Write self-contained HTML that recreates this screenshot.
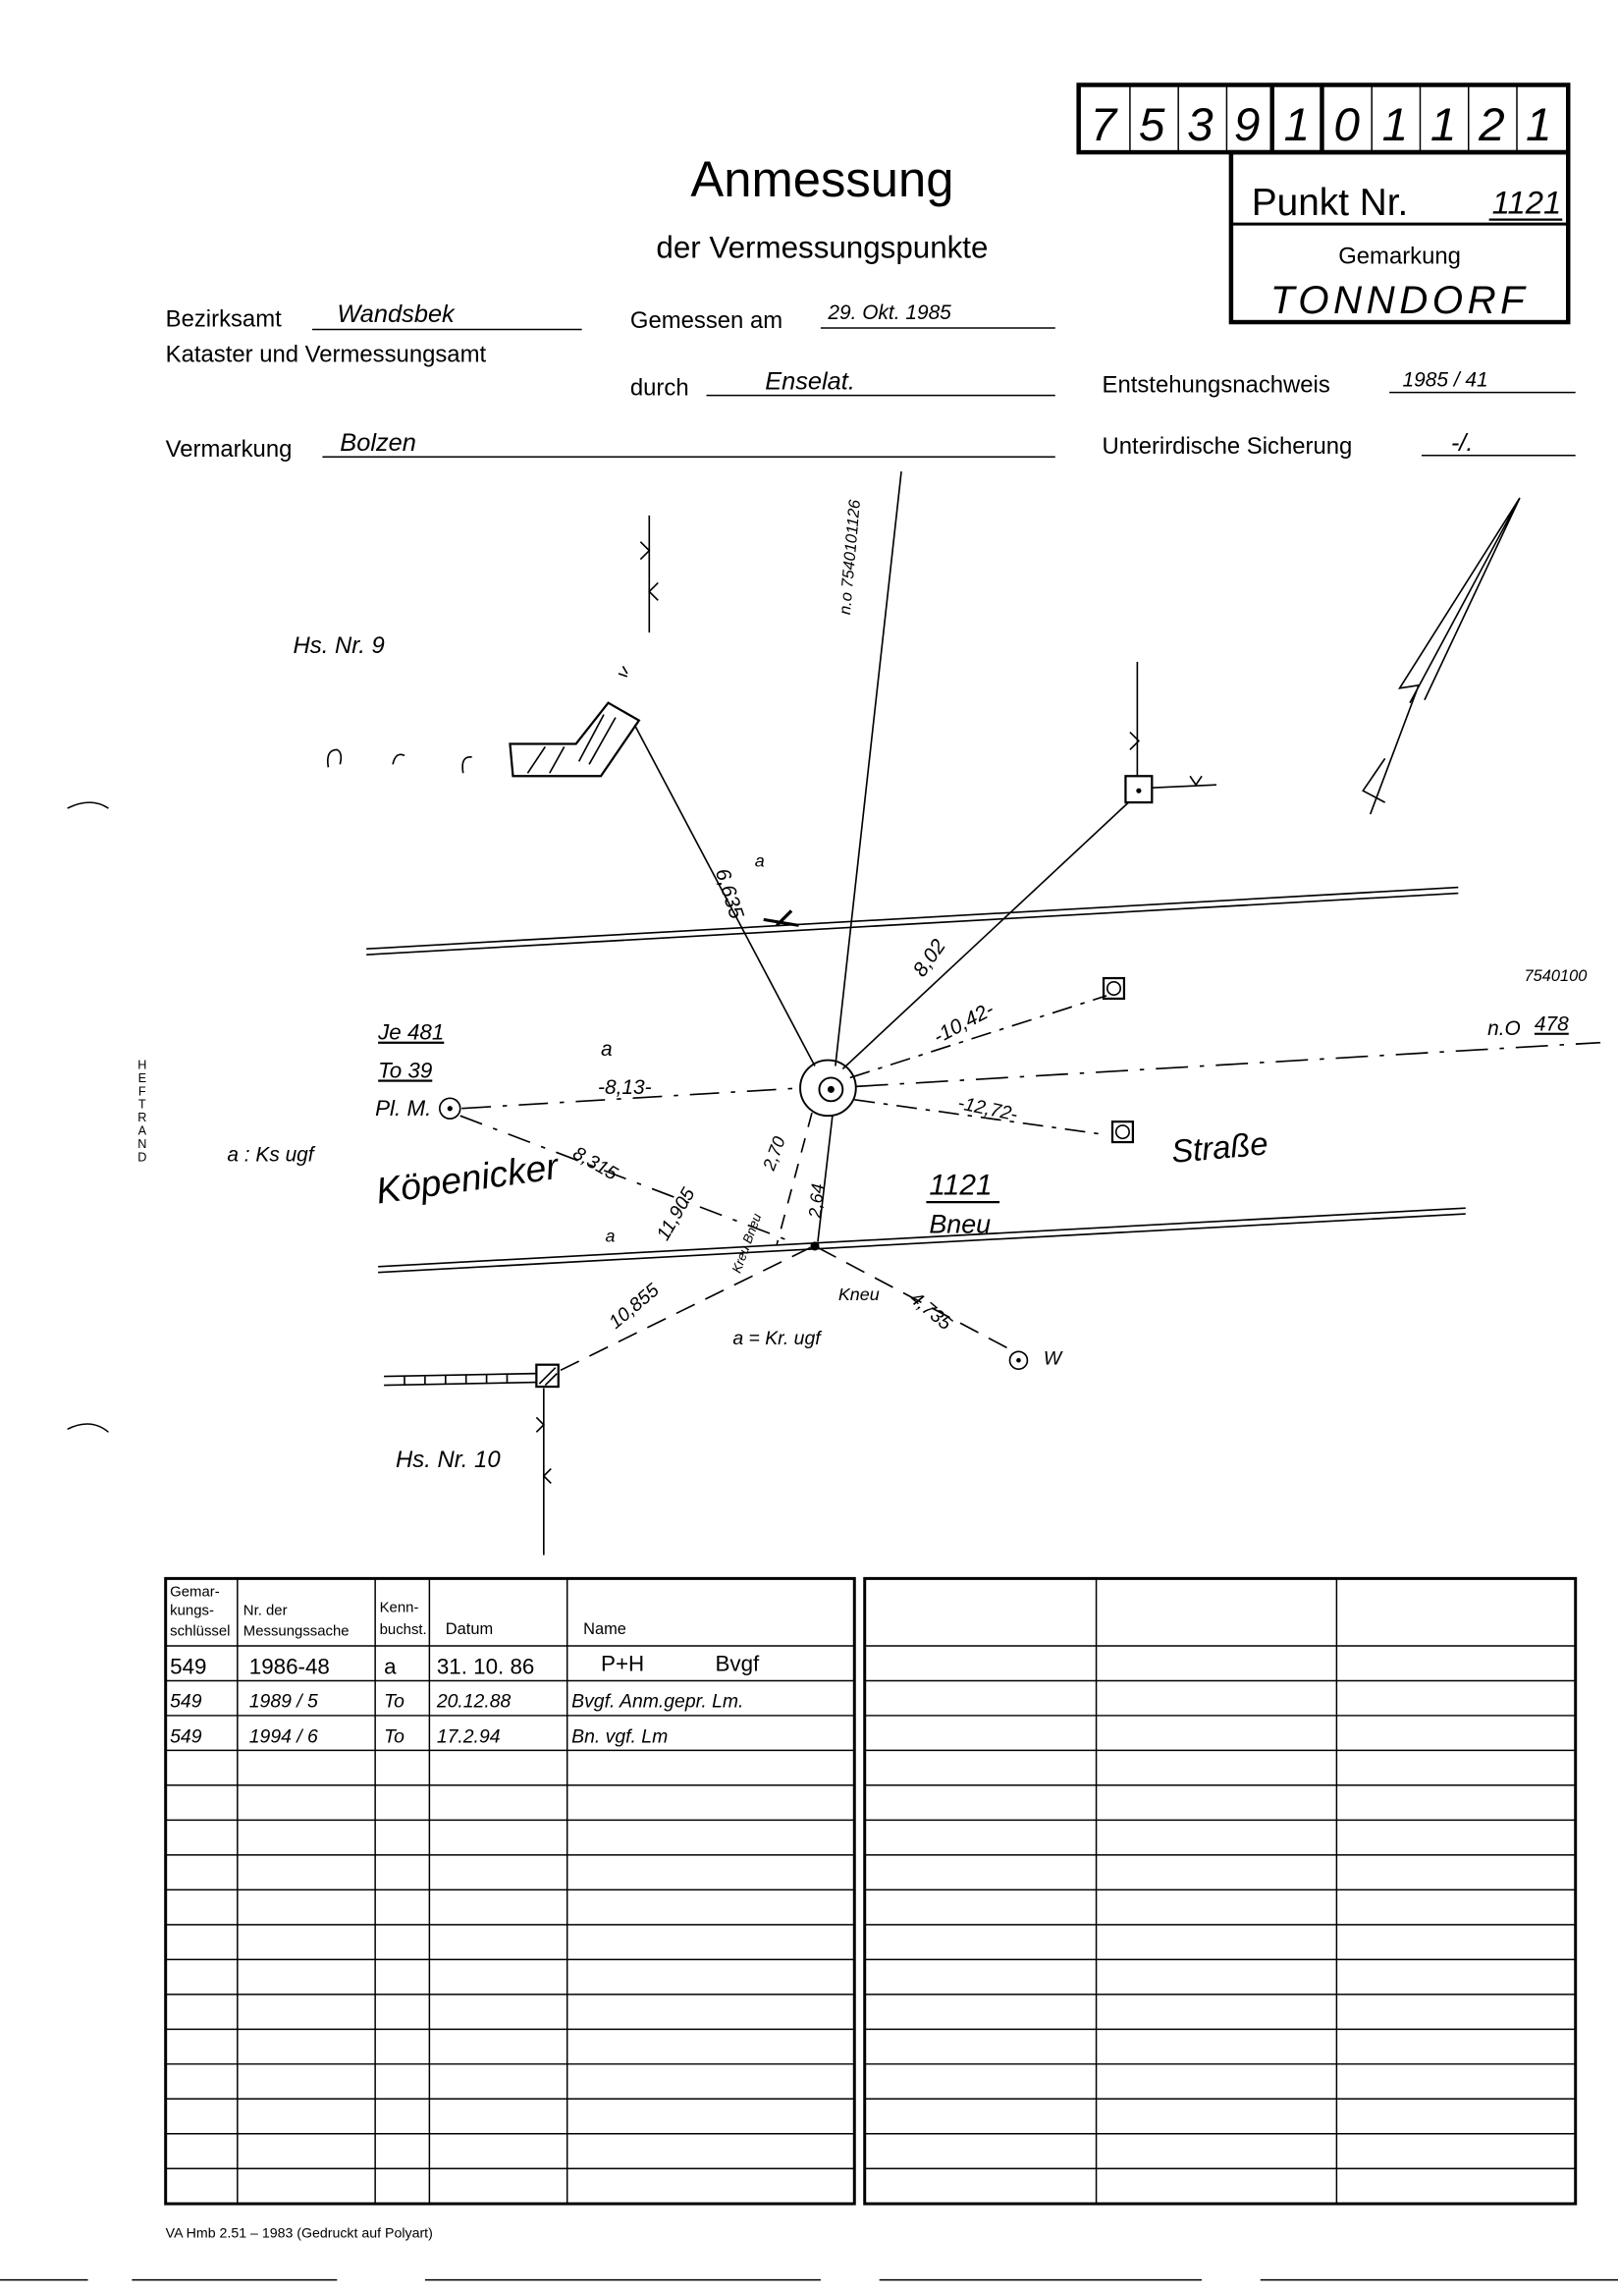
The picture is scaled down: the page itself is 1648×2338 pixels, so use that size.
<!DOCTYPE html>
<html><head><meta charset="utf-8"><style>
html,body{margin:0;padding:0;background:#fff}
svg{display:block}
.p{font-family:"Liberation Sans",sans-serif;fill:#000}
.h{font-family:"Liberation Sans",sans-serif;font-style:italic;fill:#000}
.n{font-family:"Liberation Sans",sans-serif;fill:#000;font-stretch:condensed}
</style></head><body>
<svg width="1648" height="2338" viewBox="0 0 1104 1568" preserveAspectRatio="none" xmlns="http://www.w3.org/2000/svg">
<rect width="1104" height="1568" fill="#fff"/>
<!-- title -->
<text class="p" x="561" y="134" font-size="34" text-anchor="middle">Anmessung</text>
<text class="p" x="561" y="176" font-size="21" text-anchor="middle">der Vermessungspunkte</text>
<!-- code box -->
<g stroke="#000" fill="none">
<rect x="736" y="58" width="334" height="46" stroke-width="3"/>
<g stroke-width="1">
<line x1="771" y1="58" x2="771" y2="104"/><line x1="804" y1="58" x2="804" y2="104"/><line x1="837" y1="58" x2="837" y2="104"/>
<line x1="936" y1="58" x2="936" y2="104"/><line x1="969" y1="58" x2="969" y2="104"/><line x1="1002" y1="58" x2="1002" y2="104"/><line x1="1035" y1="58" x2="1035" y2="104"/>
</g>
<line x1="868" y1="58" x2="868" y2="104" stroke-width="3"/>
<line x1="902" y1="58" x2="902" y2="104" stroke-width="3"/>
<rect x="840" y="104" width="230" height="116" stroke-width="3"/>
<line x1="840" y1="153" x2="1070" y2="153" stroke-width="2"/>
<line x1="1016" y1="150" x2="1066" y2="150" stroke-width="1.5"/>
</g>
<g class="h" font-size="32">
<text x="744" y="96">7</text><text x="777" y="96">5</text><text x="810" y="96">3</text><text x="842" y="96">9</text>
<text x="876" y="96">1</text><text x="910" y="96">0</text><text x="943" y="96">1</text><text x="976" y="96">1</text><text x="1009" y="96">2</text><text x="1041" y="96">1</text>
</g>
<text class="p" x="854" y="147" font-size="26">Punkt Nr.</text>
<text class="h" x="1018" y="146" font-size="22">1121</text>
<text class="p" x="955" y="180" font-size="16" text-anchor="middle">Gemarkung</text>
<text class="h" x="955" y="214" font-size="27" text-anchor="middle" letter-spacing="3">TONNDORF</text>
<!-- form fields -->
<g class="p" font-size="16">
<text x="113" y="223">Bezirksamt</text>
<text x="113" y="247">Kataster und Vermessungsamt</text>
<text x="430" y="224">Gemessen am</text>
<text x="430" y="270">durch</text>
<text x="752" y="268">Entstehungsnachweis</text>
<text x="113" y="312">Vermarkung</text>
<text x="752" y="310">Unterirdische Sicherung</text>
</g>
<g stroke="#000" stroke-width="1">
<line x1="213" y1="225" x2="397" y2="225"/>
<line x1="560" y1="224" x2="720" y2="224"/>
<line x1="482" y1="270" x2="720" y2="270"/>
<line x1="948" y1="268" x2="1075" y2="268"/>
<line x1="220" y1="312" x2="720" y2="312"/>
<line x1="970" y1="311" x2="1075" y2="311"/>
</g>
<g class="h" font-size="17">
<text x="230" y="220">Wandsbek</text>
<text x="565" y="218" font-size="14">29. Okt. 1985</text>
<text x="522" y="266">Enselat.</text>
<text x="957" y="264" font-size="14">1985 / 41</text>
<text x="990" y="308">-/.</text>
<text x="232" y="308">Bolzen</text>
</g>
<!-- HEFTRAND -->
<g class="p" font-size="8.5" text-anchor="middle">
<text x="97" y="730">H</text><text x="97" y="739">E</text><text x="97" y="748">F</text><text x="97" y="757">T</text><text x="97" y="766">R</text><text x="97" y="775">A</text><text x="97" y="784">N</text><text x="97" y="793">D</text>
</g>
<path d="M46 552 Q62 544 74 552" stroke="#000" fill="none"/>
<path d="M46 976 Q62 968 74 978" stroke="#000" fill="none"/>
<!-- sketch -->
<g stroke="#000" fill="none" stroke-width="1.1">
<!-- roads -->
<line x1="250" y1="648" x2="995" y2="606"/><line x1="250" y1="652" x2="995" y2="610"/>
<line x1="258" y1="865" x2="1000" y2="825"/><line x1="258" y1="869" x2="1000" y2="829"/>
<!-- north arrow -->
<path d="M1037 340 L955 470 L968 468 L935 556 M1037 340 L972 478 M1037 340 L962 480 M945 518 L930 540 L945 548"/>
<!-- vertical lines with ticks -->
<line x1="443" y1="352" x2="443" y2="432"/>
<path d="M437 370 L443 376 L437 382 M449 398 L443 404 L449 410"/>
<line x1="776" y1="452" x2="776" y2="530"/>
<path d="M771 500 L777 506 L771 512"/>
<line x1="786" y1="538" x2="830" y2="536"/><path d="M812 530 L816 536 L820 530"/>
<rect x="768" y="530" width="18" height="18" stroke-width="1.5"/>
<circle cx="777" cy="540" r="1.2" fill="#000"/>
<!-- building Hs 9 -->
<path d="M348 508 L393 508 L415 480 L436 492 L410 530 L350 530 Z" stroke-width="1.5"/>
<path d="M360 528 L372 510 M375 528 L385 510 M395 520 L412 488 M402 522 L420 490"/>
<path d="M425 455 L428 460 M422 460 L428 462"/>
<path d="M224 524 Q222 512 230 512 Q234 514 232 522"/>
<path d="M268 522 Q270 513 276 516"/>
<path d="M316 528 Q314 516 322 517"/>
<!-- rays from center -->
<line x1="433" y1="495" x2="556" y2="728"/>
<line x1="615" y1="322" x2="570" y2="728"/>
<line x1="770" y1="548" x2="575" y2="730"/>
<line x1="580" y1="736" x2="755" y2="680" stroke-dasharray="14 6 3 6"/>
<line x1="584" y1="742" x2="1092" y2="712" stroke-dasharray="22 8 3 8"/>
<line x1="583" y1="751" x2="755" y2="775" stroke-dasharray="14 6 3 6"/>
<line x1="315" y1="757" x2="547" y2="743" stroke-dasharray="20 8 3 8"/>
<line x1="568" y1="762" x2="558" y2="848"/>
<line x1="554" y1="760" x2="530" y2="850" stroke-dasharray="10 8"/>
<line x1="314" y1="762" x2="540" y2="848" stroke-dasharray="16 8 3 8"/>
<line x1="553" y1="852" x2="382" y2="936" stroke-dasharray="14 8"/>
<line x1="558" y1="852" x2="690" y2="922" stroke-dasharray="14 8"/>
<!-- center mark -->
<circle cx="565" cy="743" r="19" stroke-width="1.3"/>
<circle cx="567" cy="744" r="8" stroke-width="1.3"/>
<circle cx="567" cy="744" r="1.8" fill="#000"/>
<circle cx="556" cy="851" r="2.5" fill="#000"/>
<!-- points -->
<circle cx="307" cy="757" r="7"/><circle cx="307" cy="757" r="1.2" fill="#000"/>
<rect x="753" y="668" width="14" height="14" stroke-width="1.5"/><circle cx="760" cy="675" r="4.5"/>
<rect x="759" y="766" width="14" height="14" stroke-width="1.5"/><circle cx="766" cy="773" r="4.5"/>
<circle cx="695" cy="929" r="6"/><circle cx="695" cy="929" r="1" fill="#000"/>
<!-- fence and hatched square -->
<line x1="262" y1="940" x2="366" y2="938"/><line x1="262" y1="946" x2="366" y2="944"/>
<path d="M276 940 v6 M290 940 v6 M304 939 v6 M318 939 v6 M332 939 v6 M346 938 v6"/>
<rect x="366" y="932" width="15" height="15" stroke-width="1.5"/>
<path d="M368 945 L379 934 M372 946 L380 938"/>
<line x1="371" y1="948" x2="371" y2="1062"/>
<path d="M366 968 L371 973 L366 978 M376 1003 L371 1008 L376 1013"/>
<line x1="540" y1="622" x2="530" y2="632" stroke-width="2.2"/>
<path d="M521 628 L545 632" stroke-width="2"/>
</g>
<!-- sketch labels -->
<g class="h" font-size="16">
<text x="200" y="446">Hs. Nr. 9</text>
<text x="270" y="1002">Hs. Nr. 10</text>
<text x="258" y="710" text-decoration="underline" font-size="15">Je 481</text>
<text x="258" y="736" text-decoration="underline" font-size="15">To 39</text>
<text x="256" y="762" font-size="15">Pl. M.</text>
<text x="155" y="793" font-size="14">a : Ks ugf</text>
<text x="258" y="822" font-size="25" transform="rotate(-8 258 822)">Köpenicker</text>
<text x="800" y="794" font-size="22" transform="rotate(-5 800 794)">Straße</text>
<text x="634" y="816" font-size="20">1121</text>
<line x1="632" y1="821" x2="682" y2="821" stroke="#000" stroke-width="1.5"/>
<text x="634" y="842" font-size="18">Bneu</text>
<text x="1040" y="670" font-size="11">7540100</text>
<text x="1015" y="707" font-size="14">n.O</text>
<text x="1047" y="704" font-size="14" text-decoration="underline">478</text>
<text x="410" y="721" font-size="14">a</text>
<text x="408" y="747" font-size="14">-8,13-</text>
<text x="640" y="713" font-size="14" transform="rotate(-28 640 713)">-10,42-</text>
<text x="653" y="757" font-size="13" transform="rotate(12 653 757)">-12,72-</text>
<text x="630" y="668" font-size="14" transform="rotate(-55 630 668)">8,02</text>
<text x="488" y="595" font-size="14" transform="rotate(72 488 595)">6,635</text>
<text x="515" y="592" font-size="12">a</text>
<text x="390" y="790" font-size="13" transform="rotate(30 390 790)">8,315</text>
<text x="455" y="848" font-size="13" transform="rotate(-60 455 848)">11,905</text>
<text x="528" y="800" font-size="12" transform="rotate(-70 528 800)">2,70</text>
<text x="560" y="832" font-size="12" transform="rotate(-85 560 832)">2,64</text>
<text x="505" y="870" font-size="9" transform="rotate(-70 505 870)">Kreu Bneu</text>
<text x="420" y="908" font-size="13" transform="rotate(-40 420 908)">10,855</text>
<text x="572" y="888" font-size="12">Kneu</text>
<text x="620" y="888" font-size="13" transform="rotate(40 620 888)">4,735</text>
<text x="500" y="918" font-size="13">a = Kr. ugf</text>
<text x="712" y="932" font-size="13">W</text>
<text x="580" y="420" font-size="11" transform="rotate(-85 580 420)">n.o 7540101126</text>
<text x="413" y="848" font-size="12">a</text>
</g>
<!-- tables -->
<g stroke="#000" fill="none">
<rect x="113" y="1078" width="470" height="427" stroke-width="2"/>
<rect x="590" y="1078" width="485" height="427" stroke-width="2"/>
<g stroke-width="1">
<line x1="162" y1="1078" x2="162" y2="1505"/><line x1="256" y1="1078" x2="256" y2="1505"/><line x1="293" y1="1078" x2="293" y2="1505"/><line x1="387" y1="1078" x2="387" y2="1505"/>
<line x1="748" y1="1078" x2="748" y2="1505"/><line x1="912" y1="1078" x2="912" y2="1505"/>
</g>
<path stroke-width="1" d="M113 1124H583M113 1147.8H583M113 1171.6H583M113 1195.4H583M113 1219.2H583M113 1243H583M113 1266.8H583M113 1290.6H583M113 1314.4H583M113 1338.2H583M113 1362H583M113 1385.8H583M113 1409.6H583M113 1433.4H583M113 1457.2H583M113 1481H583
M590 1124H1075M590 1147.8H1075M590 1171.6H1075M590 1195.4H1075M590 1219.2H1075M590 1243H1075M590 1266.8H1075M590 1290.6H1075M590 1314.4H1075M590 1338.2H1075M590 1362H1075M590 1385.8H1075M590 1409.6H1075M590 1433.4H1075M590 1457.2H1075M590 1481H1075"/>
</g>
<g class="n" font-size="10">
<text x="116" y="1090">Gemar-</text><text x="116" y="1103">kungs-</text><text x="116" y="1117">schlüssel</text>
<text x="166" y="1103">Nr. der</text><text x="166" y="1117">Messungssache</text>
<text x="259" y="1101">Kenn-</text><text x="259" y="1116">buchst.</text>
<text x="304" y="1116" font-size="11">Datum</text>
<text x="398" y="1116" font-size="11">Name</text>
</g>
<g class="p" font-size="15">
<text x="116" y="1143">549</text><text x="170" y="1143">1986-48</text><text x="262" y="1143">a</text><text x="298" y="1143">31. 10. 86</text><text x="410" y="1141">P+H</text><text x="488" y="1141">Bvgf</text>
</g>
<g class="h" font-size="13">
<text x="116" y="1166">549</text><text x="170" y="1166">1989 / 5</text><text x="262" y="1166">To</text><text x="298" y="1166">20.12.88</text><text x="390" y="1166">Bvgf. Anm.gepr. Lm.</text>
<text x="116" y="1190">549</text><text x="170" y="1190">1994 / 6</text><text x="262" y="1190">To</text><text x="298" y="1190">17.2.94</text><text x="390" y="1190">Bn. vgf. Lm</text>
</g>
<text class="p" x="113" y="1528" font-size="9.5">VA Hmb 2.51 – 1983 (Gedruckt auf Polyart)</text>
<g stroke="#000" stroke-width="1">
<line x1="0" y1="1557" x2="60" y2="1557"/><line x1="90" y1="1557" x2="230" y2="1557"/><line x1="290" y1="1557" x2="560" y2="1557"/><line x1="600" y1="1557" x2="820" y2="1557"/><line x1="860" y1="1557" x2="1104" y2="1557"/>
</g>
</svg>
</body></html>
